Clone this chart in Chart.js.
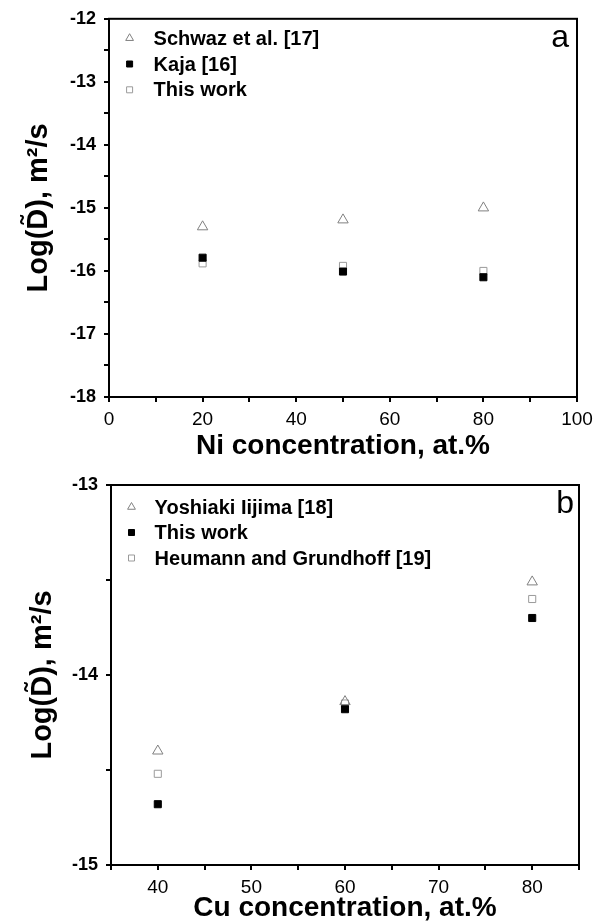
<!DOCTYPE html>
<html>
<head>
<meta charset="utf-8">
<script src="https://cdn.jsdelivr.net/npm/chart.js@4.4.1/dist/chart.umd.min.js"></script>
<style>
    html, body { margin: 0; padding: 0; background: #fff; }
    .panel { position: relative; width: 604px; }
</style>
</head>
<body>
<div class="panel" style="height:462px"><canvas id="chartNi"></canvas></div>
<div class="panel" style="height:460px"><canvas id="chartCu"></canvas></div>
<script>
// panel a - Ni
const niX = [20, 50, 80];
const schwazY = [-15.30, -15.19, -15.00];
const kajaY = [-15.79, -16.01, -16.10];
const thisWorkNiY = [-15.88, -15.92, -16.00];
const niXTicks = [0, 20, 40, 60, 80, 100];
const niYTicks = [-18, -17, -16, -15, -14, -13, -12];

// panel b - Cu
const cuX = [40, 60, 80];
const iijimaY = [-14.40, -14.14, -13.51];
const thisWorkCuY = [-14.68, -14.18, -13.70];
const heumannY = [-14.52, -14.15, -13.60];
const cuXTicks = [40, 50, 60, 70, 80];
const cuYTicks = [-15, -14, -13];

const FONT = '"Liberation Sans", Arial, sans-serif';
Chart.defaults.font.family = FONT;
Chart.defaults.color = '#000';

function points(xs, ys) {
    return xs.map((x, i) => ({ x: x, y: ys[i] }));
}

// frame, corner letter and legend inside the plot
const framePlugin = {
    id: 'frame',
    afterDatasetsDraw(chart, args, opts) {
        const ctx = chart.ctx;
        const a = chart.chartArea;
        ctx.save();
        ctx.strokeStyle = '#000';
        ctx.lineWidth = 2;
        ctx.strokeRect(a.left, a.top, a.right - a.left, a.bottom - a.top);

        ctx.font = '32px ' + FONT;
        ctx.fillStyle = '#000';
        ctx.textAlign = 'right';
        ctx.textBaseline = 'alphabetic';
        ctx.fillText(opts.letter, a.right - opts.letterDx, a.top + 28);

        ctx.font = 'bold 20px ' + FONT;
        ctx.textAlign = 'left';
        ctx.textBaseline = 'middle';
        chart.data.datasets.forEach((ds, i) => {
            const mx = a.left + opts.markX;
            const my = a.top + opts.firstRow + i * opts.rowGap;
            ctx.beginPath();
            ctx.lineWidth = 1;
            ctx.strokeStyle = ds.borderColor;
            ctx.fillStyle = ds.backgroundColor;
            if (ds.pointStyle === 'triangle') {
                const r = 4.5;
                ctx.moveTo(mx, my - r);
                ctx.lineTo(mx + r * 0.866, my + r * 0.5);
                ctx.lineTo(mx - r * 0.866, my + r * 0.5);
                ctx.closePath();
            } else {
                ctx.rect(mx - 3, my - 3, 6, 6);
            }
            ctx.fill();
            ctx.stroke();
            ctx.fillStyle = '#000';
            ctx.fillText(ds.label, a.left + opts.textX, my + 1);
        });
        ctx.restore();
    }
};

function makeChart(id, cfg) {
    new Chart(document.getElementById(id), {
        type: 'scatter',
        data: {
            datasets: [
                {
                    label: cfg.labels[0],
                    data: points(cfg.xs, cfg.ys[0]),
                    pointStyle: cfg.styles[0].style,
                    pointRadius: cfg.styles[0].radius,
                    borderColor: cfg.styles[0].border,
                    backgroundColor: cfg.styles[0].fill,
                    borderWidth: 1
                },
                {
                    label: cfg.labels[1],
                    data: points(cfg.xs, cfg.ys[1]),
                    pointStyle: cfg.styles[1].style,
                    pointRadius: cfg.styles[1].radius,
                    borderColor: cfg.styles[1].border,
                    backgroundColor: cfg.styles[1].fill,
                    borderWidth: 1
                },
                {
                    label: cfg.labels[2],
                    data: points(cfg.xs, cfg.ys[2]),
                    pointStyle: cfg.styles[2].style,
                    pointRadius: cfg.styles[2].radius,
                    borderColor: cfg.styles[2].border,
                    backgroundColor: cfg.styles[2].fill,
                    borderWidth: 1
                }
            ]
        },
        options: {
            responsive: true,
            maintainAspectRatio: false,
            animation: false,
            layout: { padding: { left: 0, right: cfg.padRight, top: cfg.padTop, bottom: 0 } },
            plugins: {
                legend: { display: false },
                tooltip: { enabled: false },
                frame: cfg.frame
            },
            scales: {
                x: {
                    type: 'linear',
                    min: cfg.xMin,
                    max: cfg.xMax,
                    afterFit: s => { s.height = cfg.xAxisHeight; },
                    afterBuildTicks: s => {
                        const t = [];
                        for (let v = cfg.xMin; v <= cfg.xMax + 1e-9; v += cfg.xMinor) t.push({ value: v });
                        s.ticks = t;
                    },
                    border: { display: true, color: '#000', width: 2 },
                    grid: { drawOnChartArea: false, drawTicks: true, tickLength: 5, color: '#000', lineWidth: 2 },
                    ticks: {
                        font: { size: 19 },
                        color: '#000',
                        padding: 6,
                        maxRotation: 0,
                        autoSkip: false,
                        callback: v => cfg.xTicks.includes(v) ? String(v) : ''
                    },
                    title: {
                        display: true,
                        text: cfg.xTitle,
                        font: { size: 28, weight: 'bold', lineHeight: 1 },
                        color: '#000',
                        padding: { top: 0, bottom: cfg.xTitlePad }
                    }
                },
                y: {
                    type: 'linear',
                    min: cfg.yMin,
                    max: cfg.yMax,
                    afterFit: s => { s.width = cfg.yAxisWidth; },
                    afterBuildTicks: s => {
                        const t = [];
                        for (let v = cfg.yMin; v <= cfg.yMax + 1e-9; v += 0.5) t.push({ value: Math.round(v * 10) / 10 });
                        s.ticks = t;
                    },
                    border: { display: true, color: '#000', width: 2 },
                    grid: { drawOnChartArea: false, drawTicks: true, tickLength: 5, color: '#000', lineWidth: 2 },
                    ticks: {
                        font: { size: 18, weight: 'bold' },
                        color: '#000',
                        padding: 8,
                        autoSkip: false,
                        callback: v => cfg.yTicks.includes(v) ? String(v) : ''
                    },
                    title: {
                        display: true,
                        text: 'Log(D\u0303), m\u00B2/s',
                        font: { size: 29, weight: 'bold', lineHeight: 1 },
                        color: '#000',
                        padding: { top: cfg.yTitlePad, bottom: 0 }
                    }
                }
            }
        },
        plugins: [framePlugin]
    });
}

const triStyle = { style: 'triangle', radius: 6, border: '#808080', fill: 'rgba(255,255,255,0)' };
const openSq = { style: 'rect', radius: 5, border: '#9a9a9a', fill: 'rgba(255,255,255,0)' };
const fullSq = { style: 'rect', radius: 5, border: '#000', fill: '#000' };

makeChart('chartNi', {
    xs: niX,
    ys: [schwazY, kajaY, thisWorkNiY],
    labels: ['Schwaz et al. [17]', 'Kaja [16]', 'This work'],
    styles: [triStyle, fullSq, openSq],
    xMin: 0, xMax: 100, xMinor: 10, xTicks: niXTicks,
    yMin: -18, yMax: -12, yTicks: niYTicks,
    xTitle: 'Ni concentration, at.%',
    padTop: 17, padRight: 27,
    xAxisHeight: 65, yAxisWidth: 109,
    xTitlePad: 2, yTitlePad: 24,
    frame: { letter: 'a', letterDx: 8, markX: 20.6, textX: 44.6, firstRow: 19.4, rowGap: 25.8 }
});

makeChart('chartCu', {
    xs: cuX,
    ys: [iijimaY, thisWorkCuY, heumannY],
    labels: ['Yoshiaki Iijima [18]', 'This work', 'Heumann and Grundhoff [19]'],
    styles: [triStyle, fullSq, openSq],
    xMin: 35, xMax: 85, xMinor: 5, xTicks: cuXTicks,
    yMin: -15, yMax: -13, yTicks: cuYTicks,
    xTitle: 'Cu concentration, at.%',
    padTop: 23, padRight: 25,
    xAxisHeight: 57, yAxisWidth: 111,
    xTitlePad: 0, yTitlePad: 28,
    frame: { letter: 'b', letterDx: 5, markX: 20.5, textX: 43.6, firstRow: 22, rowGap: 25.5 }
});
</script>
</body>
</html>
